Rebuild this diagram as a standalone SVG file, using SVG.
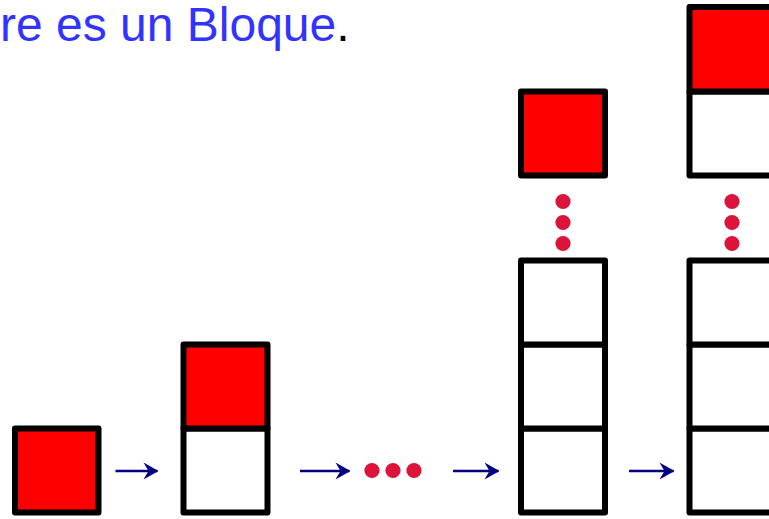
<svg xmlns="http://www.w3.org/2000/svg" width="769" height="519" viewBox="0 0 769 519">
  <style>
    .cell { stroke: #000; stroke-width: 6; stroke-linejoin: round; }
    .red { fill: #ff0000; }
    .white { fill: #ffffff; }
    .dot { fill: #dc143c; }
    .arrow { stroke: #000080; stroke-width: 2.6; fill: none; }
    .head { fill: #000080; }
    .title { font-family: "Liberation Sans", Arial, sans-serif; font-size: 48px; }
  </style>
  <defs>
    <marker id="ah" viewBox="0 0 16 18" refX="15" refY="9" markerWidth="16" markerHeight="18" markerUnits="userSpaceOnUse" orient="auto">
      <path class="head" d="M16 9 L1 0.5 L6 9 L1 17.5 Z"/>
    </marker>
  </defs>
  <rect width="769" height="519" fill="#ffffff"/>

  <text id="title" class="title" x="0" y="41"><tspan fill="#3333ff">re es un Bloque</tspan><tspan fill="#000">.</tspan></text>

  <!-- stage 1: single block -->
  <g id="stack1">
    <rect class="cell red" x="15" y="428.5" width="83.5" height="84"/>
  </g>

  <!-- stage 2: two blocks -->
  <g id="stack2">
    <rect class="cell white" x="183.5" y="428.5" width="84" height="84"/>
    <rect class="cell red" x="183.5" y="344.5" width="84" height="84"/>
  </g>

  <!-- ellipsis between stages -->
  <g id="ellipsis">
    <circle class="dot" cx="372" cy="470.5" r="7.6"/>
    <circle class="dot" cx="393" cy="470.5" r="7.6"/>
    <circle class="dot" cx="414" cy="470.5" r="7.6"/>
  </g>

  <!-- stage n: tall stack with gap -->
  <g id="stack3">
    <rect class="cell white" x="521" y="428.5" width="84" height="84"/>
    <rect class="cell white" x="521" y="344.5" width="84" height="84"/>
    <rect class="cell white" x="521" y="260.5" width="84" height="84"/>
    <circle class="dot" cx="563" cy="201.5" r="7.6"/>
    <circle class="dot" cx="563" cy="222.5" r="7.6"/>
    <circle class="dot" cx="563" cy="243.5" r="7.6"/>
    <rect class="cell red" x="521" y="91.5" width="84" height="84"/>
  </g>

  <!-- stage n+1 -->
  <g id="stack4">
    <rect class="cell white" x="689.5" y="428.5" width="84" height="84"/>
    <rect class="cell white" x="689.5" y="344.5" width="84" height="84"/>
    <rect class="cell white" x="689.5" y="260.5" width="84" height="84"/>
    <circle class="dot" cx="732" cy="201.5" r="7.6"/>
    <circle class="dot" cx="732" cy="222.5" r="7.6"/>
    <circle class="dot" cx="732" cy="243.5" r="7.6"/>
    <rect class="cell white" x="689.5" y="91.5" width="84" height="84"/>
    <rect class="cell red" x="689.5" y="7" width="84" height="84.5"/>
  </g>

  <!-- transitions -->
  <g id="connectors">
    <line class="arrow" x1="115.5" y1="471" x2="157.5" y2="471" marker-end="url(#ah)"/>
    <line class="arrow" x1="300" y1="471" x2="349.5" y2="471" marker-end="url(#ah)"/>
    <line class="arrow" x1="453" y1="471" x2="498.5" y2="471" marker-end="url(#ah)"/>
    <line class="arrow" x1="629" y1="471" x2="673.5" y2="471" marker-end="url(#ah)"/>
  </g>
</svg>
